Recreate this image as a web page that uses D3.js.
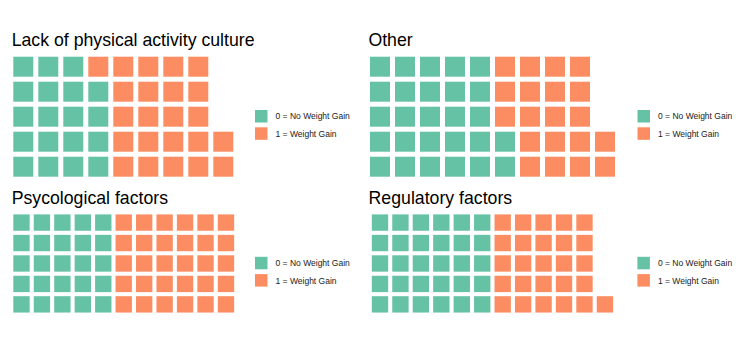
<!DOCTYPE html>
<html>
<head>
<meta charset="utf-8">
<script src="https://cdn.jsdelivr.net/npm/d3@7"></script>
<style>
  body { margin: 0; background: #fff; }
  svg { font-family: "Liberation Sans", Arial, sans-serif; }
</style>
</head>
<body>
<svg id="chart" width="750" height="343"></svg>
<script>
// panel titles and counts per group
const categories = ["Lack of physical activity culture", "Other", "Psycological factors", "Regulatory factors"];
const noGain = [19, 27, 25, 30];
const gain = [23, 20, 30, 26];
const legendLabels = ["0 = No Weight Gain", "1 = Weight Gain"];

const nRows = 5;
const color = d3.scaleOrdinal().domain([0, 1]).range(["#66c2a5", "#fc8d62"]);

// where each panel sits
const panels = [
  { x: 13.3, titleX: 11.7, top: 56.7, step: 25, titleY: 46, legX: 255, legY: 110 },
  { x: 370, titleX: 368.4, top: 56.7, step: 25, titleY: 46, legX: 637.5, legY: 110 },
  { x: 13.3, titleX: 11.7, top: 214.4, step: 20.45, titleY: 203.5, legX: 255, legY: 256.8 },
  { x: 371.8, titleX: 368.6, top: 214.4, step: 20.45, titleY: 203.5, legX: 637.4, legY: 256.8 }
];

let svg = d3.select('#chart');

categories.forEach((name, p) => {
  let lay = panels[p];
  let total = noGain[p] + gain[p];
  let nCols = Math.ceil(total / nRows);

  // one cell per person, filled column by column from the bottom
  let cells = d3.range(total).map(i => ({
    col: Math.floor(i / nRows),
    row: nRows - 1 - (i % nRows),
    group: i < noGain[p] ? 0 : 1
  }));

  let x = d3.scaleBand()
    .domain(d3.range(nCols))
    .range([lay.x, lay.x + lay.step * (nCols - 0.2)])
    .paddingInner(0.2);
  let y = d3.scaleBand()
    .domain(d3.range(nRows))
    .range([lay.top, lay.top + lay.step * (nRows - 0.2)])
    .paddingInner(0.2);

  let g = svg.append('g').attr('class', 'panel');

  g.append('text')
    .attr('x', lay.titleX)
    .attr('y', lay.titleY)
    .attr('font-size', 17.7)
    .attr('fill', '#000')
    .text(name);

  g.selectAll('rect.cell')
    .data(cells)
    .enter().append('rect')
    .attr('class', 'cell')
    .attr('x', d => x(d.col))
    .attr('y', d => y(d.row))
    .attr('width', x.bandwidth())
    .attr('height', y.bandwidth())
    .attr('fill', d => color(d.group));

  // legend
  let leg = g.selectAll('g.key')
    .data(legendLabels)
    .enter().append('g')
    .attr('class', 'key')
    .attr('transform', (d, i) => 'translate(' + lay.legX + ',' + (lay.legY + i * 17.3) + ')');

  leg.append('rect')
    .attr('width', 12.5)
    .attr('height', 12.5)
    .attr('fill', (d, i) => color(i));

  leg.append('text')
    .attr('x', 20.5)
    .attr('y', 6.5)
    .attr('dy', '0.35em')
    .attr('font-size', 8.5)
    .attr('fill', '#1a1a1a')
    .text(d => d);
});
</script>
</body>
</html>
